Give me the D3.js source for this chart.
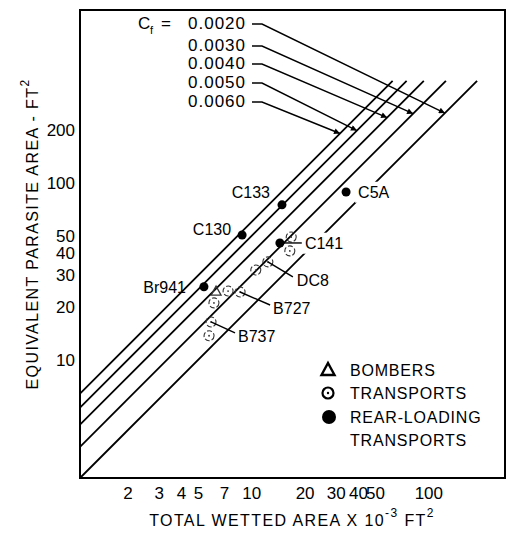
<!DOCTYPE html>
<html>
<head>
<meta charset="utf-8">
<script src="https://cdn.jsdelivr.net/npm/d3@7"></script>
<style>
body { margin: 0; background: #fff; }
text { font-family: "Liberation Sans", Arial, sans-serif; fill: #000; }
</style>
</head>
<body>
<div id="chart"></div>
<script>
// skin friction lines, f = Cf * Swet
var cfValues = [0.0020, 0.0030, 0.0040, 0.0050, 0.0060];
var cfLabels = ['0.0020', '0.0030', '0.0040', '0.0050', '0.0060'];
var cfArrowAt = [124, 82, 58.5, 39.5, 31.7];   // wetted area (x10^3) where each leader ends
var lineTopF = 377;                             // parasite area where the lines stop
var xTicks = [2, 3, 4, 5, 7, 10, 20, 30, 40, 50, 100];
var yTicks = [10, 20, 30, 40, 50, 100, 200];
var xDomain = [1.077, 271];
var yDomain = [2.154, 948];

// rear-loading transports (filled)
var rearNames = ['Br941', 'C130', 'C133', 'C141', 'C5A'];
var rearX = [5.4, 8.87, 14.9, 14.5, 34.3];
var rearY = [25.9, 50.8, 75.2, 45.8, 88.9];
// transports (open)
var transNames = ['', '', 'DC8', '', 'B727', '', '', 'B737', ''];
var transX = [16.8, 16.5, 12.4, 10.6, 8.64, 7.39, 6.15, 5.92, 5.77];
var transY = [49.5, 41.3, 35.8, 32.2, 24.2, 24.5, 21.0, 16.4, 13.7];
// bombers
var bomberX = [6.32];
var bomberY = [24.5];

var legendLabels = ['BOMBERS', 'TRANSPORTS', 'REAR-LOADING', 'TRANSPORTS'];

var svgwidth = 511, svgheight = 548;
var margin = {top: 10, left: 80, right: 6, bottom: 70};

var svg = d3.select('#chart').append('svg')
    .attr('width', svgwidth)
    .attr('height', svgheight);

var defs = svg.append('defs');
defs.append('marker')
    .attr('id', 'arrow')
    .attr('viewBox', '0 0 10 10')
    .attr('refX', 10).attr('refY', 5)
    .attr('markerWidth', 9).attr('markerHeight', 6)
    .attr('markerUnits', 'userSpaceOnUse')
    .attr('orient', 'auto')
    .append('path').attr('d', 'M0,0 L10,5 L0,10 Z').attr('fill', '#000');

var x = d3.scaleLog().domain(xDomain).range([margin.left, svgwidth - margin.right]);
var y = d3.scaleLog().domain(yDomain).range([svgheight - margin.bottom, margin.top]);

// frame
svg.append('rect')
    .attr('x', margin.left).attr('y', margin.top)
    .attr('width', svgwidth - margin.right - margin.left)
    .attr('height', svgheight - margin.bottom - margin.top)
    .attr('fill', 'none').attr('stroke', '#000').attr('stroke-width', 2);

// axes (labels only)
var xAxis = svg.append('g')
    .attr('transform', 'translate(0,' + (svgheight - margin.bottom) + ')')
    .call(d3.axisBottom(x).tickValues(xTicks).tickSize(0).tickPadding(9).tickFormat(d3.format('d')));
var yAxis = svg.append('g')
    .attr('transform', 'translate(' + margin.left + ',0)')
    .call(d3.axisLeft(y).tickValues(yTicks).tickSize(0).tickPadding(5).tickFormat(d3.format('d')));
[xAxis, yAxis].forEach(function (g) {
    g.select('.domain').remove();
    g.selectAll('text').attr('font-size', 17).attr('fill', '#000')
        .style('font-family', '"Liberation Sans", Arial, sans-serif');
});

// Cf lines
var line = d3.line().x(function (d) { return x(d[0]); }).y(function (d) { return y(d[1]); });
svg.selectAll('.cfline')
    .data(cfValues)
    .enter()
    .append('path')
    .attr('class', 'cfline')
    .attr('d', function (cf) {
        var k = cf * 1000;
        return line([[xDomain[0], k * xDomain[0]], [lineTopF / k, lineTopF]]);
    })
    .attr('fill', 'none').attr('stroke', '#000').attr('stroke-width', 1.8);

// Cf labels with leaders
var cfLabelY = [29, 51, 69, 88, 107];
svg.append('text').attr('x', 138).attr('y', 29).attr('font-size', 17).text('C');
svg.append('text').attr('x', 150).attr('y', 34).attr('font-size', 11).text('f');
svg.append('text').attr('x', 161).attr('y', 29).attr('font-size', 17).text('=');
cfLabels.forEach(function (lab, i) {
    svg.append('text').attr('x', 188).attr('y', cfLabelY[i])
        .attr('font-size', 17).attr('letter-spacing', 1).text(lab);
    var k = cfValues[i] * 1000;
    var ax = x(cfArrowAt[i]), ay = y(k * cfArrowAt[i]);
    var ly = cfLabelY[i] - 5;
    svg.append('path')
        .attr('d', 'M252,' + ly + ' L262,' + ly + ' L' + ax + ',' + ay)
        .attr('fill', 'none').attr('stroke', '#000').attr('stroke-width', 1.4)
        .attr('marker-end', 'url(#arrow)');
});

// label layout: [dx, dy, anchor, leaderX, leaderY, masked]
var rearLayout = {
    'Br941': [-18, 0, 'end', 0, 0, false],
    'C130': [-11, -6, 'end', 0, 0, false],
    'C133': [-12, -13, 'end', 0, 0, false],
    'C141': [25, 0, 'start', 22, 0, true],
    'C5A': [12, 0, 'start', 0, 0, true]
};
var transLayout = {
    'DC8': [29, 18, 'start', 25, 15, false],
    'B727': [33, 16, 'start', 30, 13, false],
    'B737': [27, 14, 'start', 24, 11, false]
};
function addLabel(name, px, py, lay) {
    if (lay[3] || lay[4]) {
        svg.append('line').attr('x1', px).attr('y1', py)
            .attr('x2', px + lay[3]).attr('y2', py + lay[4])
            .attr('stroke', '#000').attr('stroke-width', 1.4);
    }
    var t = svg.append('text')
        .attr('x', px + lay[0]).attr('y', py + lay[1])
        .attr('dy', '0.36em')
        .attr('text-anchor', lay[2])
        .attr('font-size', 16)
        .text(name);
    if (lay[5]) {
        var b = t.node().getBBox();
        svg.insert('rect', function () { return t.node(); })
            .attr('x', b.x - 3).attr('y', b.y - 2)
            .attr('width', b.width + 6).attr('height', b.height + 4)
            .attr('fill', '#fff');
    }
}

// transports
svg.selectAll('.trans')
    .data(transX)
    .enter()
    .append('g')
    .attr('class', 'trans')
    .each(function (d, i) {
        var g = d3.select(this), px = x(transX[i]), py = y(transY[i]);
        g.append('circle').attr('cx', px).attr('cy', py).attr('r', 5)
            .attr('fill', 'none').attr('stroke', '#333').attr('stroke-width', 1.1)
            .attr('stroke-dasharray', '5,2');
        g.append('circle').attr('cx', px).attr('cy', py).attr('r', 0.9).attr('fill', '#333');
        if (transNames[i]) addLabel(transNames[i], px, py, transLayout[transNames[i]]);
    });

// bombers
svg.selectAll('.bomber')
    .data(bomberX)
    .enter()
    .append('path')
    .attr('class', 'bomber')
    .attr('d', function (d, i) {
        var px = x(bomberX[i]), py = y(bomberY[i]);
        return 'M' + px + ',' + (py - 5) + ' L' + (px + 5) + ',' + (py + 4) + ' L' + (px - 5) + ',' + (py + 4) + ' Z';
    })
    .attr('fill', 'none').attr('stroke', '#333').attr('stroke-width', 1.3);

// rear-loading transports
rearNames.forEach(function (name, i) {
    var px = x(rearX[i]), py = y(rearY[i]);
    addLabel(name, px, py, rearLayout[name]);
    svg.append('circle').attr('cx', px).attr('cy', py).attr('r', 4.5).attr('fill', '#000');
});

// legend
var legY = [370, 393, 417, 440];
var leg = svg.append('g');
leg.append('path').attr('d', 'M328,363 L334.5,375 L321.5,375 Z')
    .attr('fill', 'none').attr('stroke', '#000').attr('stroke-width', 2.4);
leg.append('circle').attr('cx', 328).attr('cy', 393).attr('r', 5.5)
    .attr('fill', 'none').attr('stroke', '#000').attr('stroke-width', 2.2);
leg.append('circle').attr('cx', 328).attr('cy', 393).attr('r', 1.2).attr('fill', '#000');
leg.append('circle').attr('cx', 329).attr('cy', 417).attr('r', 7).attr('fill', '#000');
leg.selectAll('text')
    .data(legendLabels)
    .enter()
    .append('text')
    .attr('x', 350)
    .attr('y', function (d, i) { return legY[i]; })
    .attr('dy', '0.36em')
    .attr('font-size', 16)
    .attr('letter-spacing', 0.8)
    .text(function (d) { return d; });

// axis titles
var xt = svg.append('text').attr('x', 292).attr('y', 526)
    .attr('text-anchor', 'middle').attr('font-size', 16).attr('letter-spacing', 1.4);
xt.append('tspan').text('TOTAL WETTED AREA X 10');
xt.append('tspan').attr('dy', -9).attr('font-size', 12).text('-3');
xt.append('tspan').attr('dy', 9).text(' FT');
xt.append('tspan').attr('dy', -9).attr('font-size', 12).text('2');

var yt = svg.append('text')
    .attr('transform', 'translate(38,234) rotate(-90)')
    .attr('text-anchor', 'middle').attr('font-size', 16).attr('letter-spacing', 1.4);
yt.append('tspan').text('EQUIVALENT PARASITE AREA - FT');
yt.append('tspan').attr('dy', -9).attr('font-size', 12).text('2');
</script>
</body>
</html>
